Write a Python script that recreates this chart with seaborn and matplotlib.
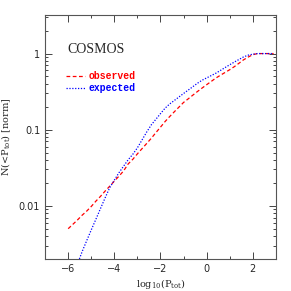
import numpy as np
import pandas as pd
import matplotlib
matplotlib.use("Agg")
import matplotlib.pyplot as plt
import seaborn as sns
from matplotlib.ticker import MultipleLocator, FixedLocator, NullFormatter

# cumulative distributions (log10 P_tot, N(<P_tot))
x_obs = [-6.0, -5.8, -5.6, -5.4, -5.2, -5.0, -4.8, -4.6, -4.4, -4.2, -4.0, -3.8,
         -3.6, -3.4, -3.2, -3.0, -2.8, -2.6, -2.4, -2.2, -2.0, -1.8, -1.6, -1.4,
         -1.2, -1.0, -0.8, -0.6, -0.4, -0.2, 0.0, 0.2, 0.4, 0.6, 0.8, 1.0,
         1.2, 1.4, 1.6, 1.8, 2.0, 2.2, 2.9]
n_obs = [0.0050, 0.0057, 0.0065, 0.0075, 0.0085, 0.0098, 0.0115, 0.0133, 0.0156, 0.0181, 0.0211, 0.0245,
         0.0287, 0.0355, 0.0408, 0.0482, 0.0563, 0.0658, 0.077, 0.0914, 0.108, 0.128, 0.149, 0.172,
         0.198, 0.228, 0.254, 0.284, 0.317, 0.352, 0.390, 0.431, 0.477, 0.520, 0.565, 0.614,
         0.673, 0.746, 0.828, 0.90, 0.966, 1.0, 1.0]

x_exp = [-5.6, -5.4, -5.2, -5.0, -4.8, -4.6, -4.4, -4.2, -4.0, -3.8, -3.6, -3.4,
         -3.2, -3.0, -2.8, -2.6, -2.4, -2.2, -2.0, -1.8, -1.6, -1.4, -1.2, -1.0,
         -0.8, -0.6, -0.4, -0.2, 0.0, 0.2, 0.4, 0.6, 0.8, 1.0, 1.2, 1.4,
         1.6, 1.8, 2.0, 2.2, 2.9]
n_exp = [0.0017, 0.00248, 0.00347, 0.00482, 0.00665, 0.0092, 0.0127, 0.0173, 0.0217, 0.0272, 0.0331, 0.0403,
         0.0475, 0.0578, 0.0733, 0.0929, 0.1156, 0.137, 0.1625, 0.192, 0.218, 0.242, 0.269, 0.299,
         0.331, 0.367, 0.407, 0.446, 0.479, 0.514, 0.552, 0.601, 0.655, 0.713, 0.774, 0.836,
         0.904, 0.953, 0.982, 1.0, 1.0]

sns.set_style("ticks")
plt.rcParams['font.family'] = ['DejaVu Sans']
plt.rcParams['mathtext.fontset'] = 'dejavuserif'

fig = plt.figure(figsize=(2.91, 2.91), dpi=100)
ax = fig.add_axes([0.155, 0.110, 0.793, 0.838])

sns.lineplot(x=x_obs, y=n_obs, ax=ax, color='red', linewidth=0.9,
             linestyle=(0, (3, 2)), label='observed', estimator=None)
sns.lineplot(x=x_exp, y=n_exp, ax=ax, color='blue', linewidth=0.9,
             linestyle=(0, (1, 1.3)), label='expected', estimator=None)

ax.set_yscale('log')
ax.set_xlim(-7, 3)
ax.set_ylim(0.002, 3.2)

ax.xaxis.set_major_locator(MultipleLocator(2))
ax.xaxis.set_minor_locator(MultipleLocator(1))
ax.yaxis.set_major_locator(FixedLocator([0.01, 0.1, 1]))
ax.set_yticklabels(['0.01', '0.1', '1'])
ax.yaxis.set_minor_formatter(NullFormatter())
ax.tick_params(which='both', direction='in', top=True, right=True, labelsize=7, width=0.6)
ax.tick_params(which='major', length=5)
ax.tick_params(which='minor', length=2.5)
for s in ax.spines.values():
    s.set_linewidth(0.8)
    s.set_color('#555555')

ax.set_xlabel(r'log$_{10}$(P$_{\rm tot}$)', fontsize=7, labelpad=2, family='DejaVu Serif')
ax.set_ylabel(r'N(<P$_{\rm tot}$) [norm]', fontsize=7, labelpad=4, family='DejaVu Serif')

ax.text(0.098, 0.86, 'COSMOS', transform=ax.transAxes, fontsize=10,
        va='center', family='Liberation Serif')
leg = ax.legend(loc='upper left', bbox_to_anchor=(0.075, 0.785), frameon=False,
                handlelength=1.9, handletextpad=0.4, labelspacing=0.15,
                borderaxespad=0, labelcolor='linecolor',
                prop={'family': 'Liberation Mono', 'weight': 'bold', 'size': 7})

fig.savefig('out.png', dpi=100)
